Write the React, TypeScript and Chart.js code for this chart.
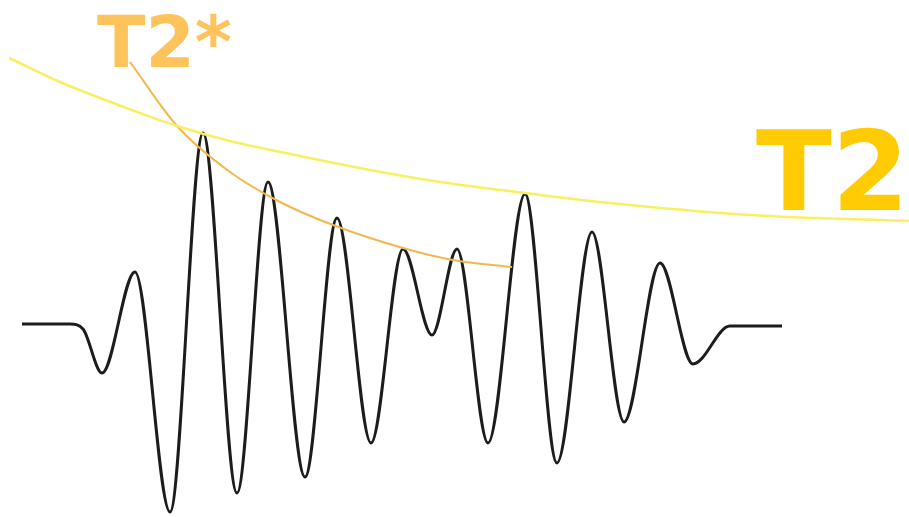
import React, { useEffect, useRef } from "react";
import { Chart, registerables } from "chart.js";

Chart.register(...registerables);

// Echo signal (black) (x in px-like units, y in px-like units, y downward)
const waveX = [22, 70, 83, 102, 135, 170, 203, 237, 268, 305, 337, 371, 403, 432, 457, 488, 525, 557, 592, 624, 660, 693, 730, 782];
const waveY = [324, 324, 329, 373, 272, 512, 133, 493, 182, 477, 218, 443, 249, 335, 249, 443, 194, 463, 232, 422, 263, 364, 326, 326];

// T2 envelope (yellow)
const t2X = [9, 60, 100, 140, 177, 230, 300, 370, 440, 525, 600, 750, 909];
const t2Y = [58, 82, 98, 113, 126, 141, 156, 170, 182, 193, 202, 215, 221];

// T2* envelope (orange)
const t2sX = [130, 177, 230, 280, 333, 403, 453, 512];
const t2sY = [62, 126, 172, 202, 225, 248, 260, 267];

const labels = ["T2*", "T2"];

const toPts = (xs: number[], ys: number[]) => xs.map((x, i) => ({ x, y: ys[i] }));

const labelPlugin = {
  id: "labelPlugin",
  afterDatasetsDraw(chart: any) {
    const { ctx, scales } = chart;
    const items = [
      { text: labels[0], x: 97, y: 67, size: 71, color: "#fec45b" },
      { text: labels[1], x: 756, y: 210, size: 111, color: "#ffcb05" },
    ];
    ctx.save();
    ctx.textAlign = "left";
    ctx.textBaseline = "alphabetic";
    for (const it of items) {
      ctx.font = `bold ${it.size}px "DejaVu Sans"`;
      ctx.fillStyle = it.color;
      ctx.fillText(it.text, scales.x.getPixelForValue(it.x), scales.y.getPixelForValue(it.y));
    }
    ctx.restore();
  },
};

export default function App() {
  const ref = useRef<HTMLCanvasElement | null>(null);
  useEffect(() => {
    if (!ref.current) return;
    const chart = new Chart(ref.current, {
      type: "line",
      data: {
        datasets: [
          {
            data: toPts(t2X, t2Y),
            borderColor: "#f8f060",
            borderWidth: 2.5,
            pointRadius: 0,
            cubicInterpolationMode: "monotone",
          },
          {
            data: toPts(t2sX, t2sY),
            borderColor: "#f2b850",
            borderWidth: 2,
            pointRadius: 0,
            cubicInterpolationMode: "monotone",
          },
          {
            data: toPts(waveX, waveY),
            borderColor: "#1c1c1c",
            borderWidth: 3,
            pointRadius: 0,
            cubicInterpolationMode: "monotone",
          },
        ],
      },
      options: {
        animation: false,
        responsive: true,
        maintainAspectRatio: false,
        layout: { padding: 0 },
        plugins: { legend: { display: false }, tooltip: { enabled: false } },
        scales: {
          x: { type: "linear", min: 0, max: 909, display: false },
          y: { type: "linear", min: 0, max: 517, reverse: true, display: false },
        },
      },
      plugins: [labelPlugin],
    });
    return () => chart.destroy();
  }, []);
  return (
    <div style={{ position: "fixed", left: 0, top: 0, width: 909, height: 517, background: "#fff" }}>
      <canvas ref={ref} />
    </div>
  );
}
